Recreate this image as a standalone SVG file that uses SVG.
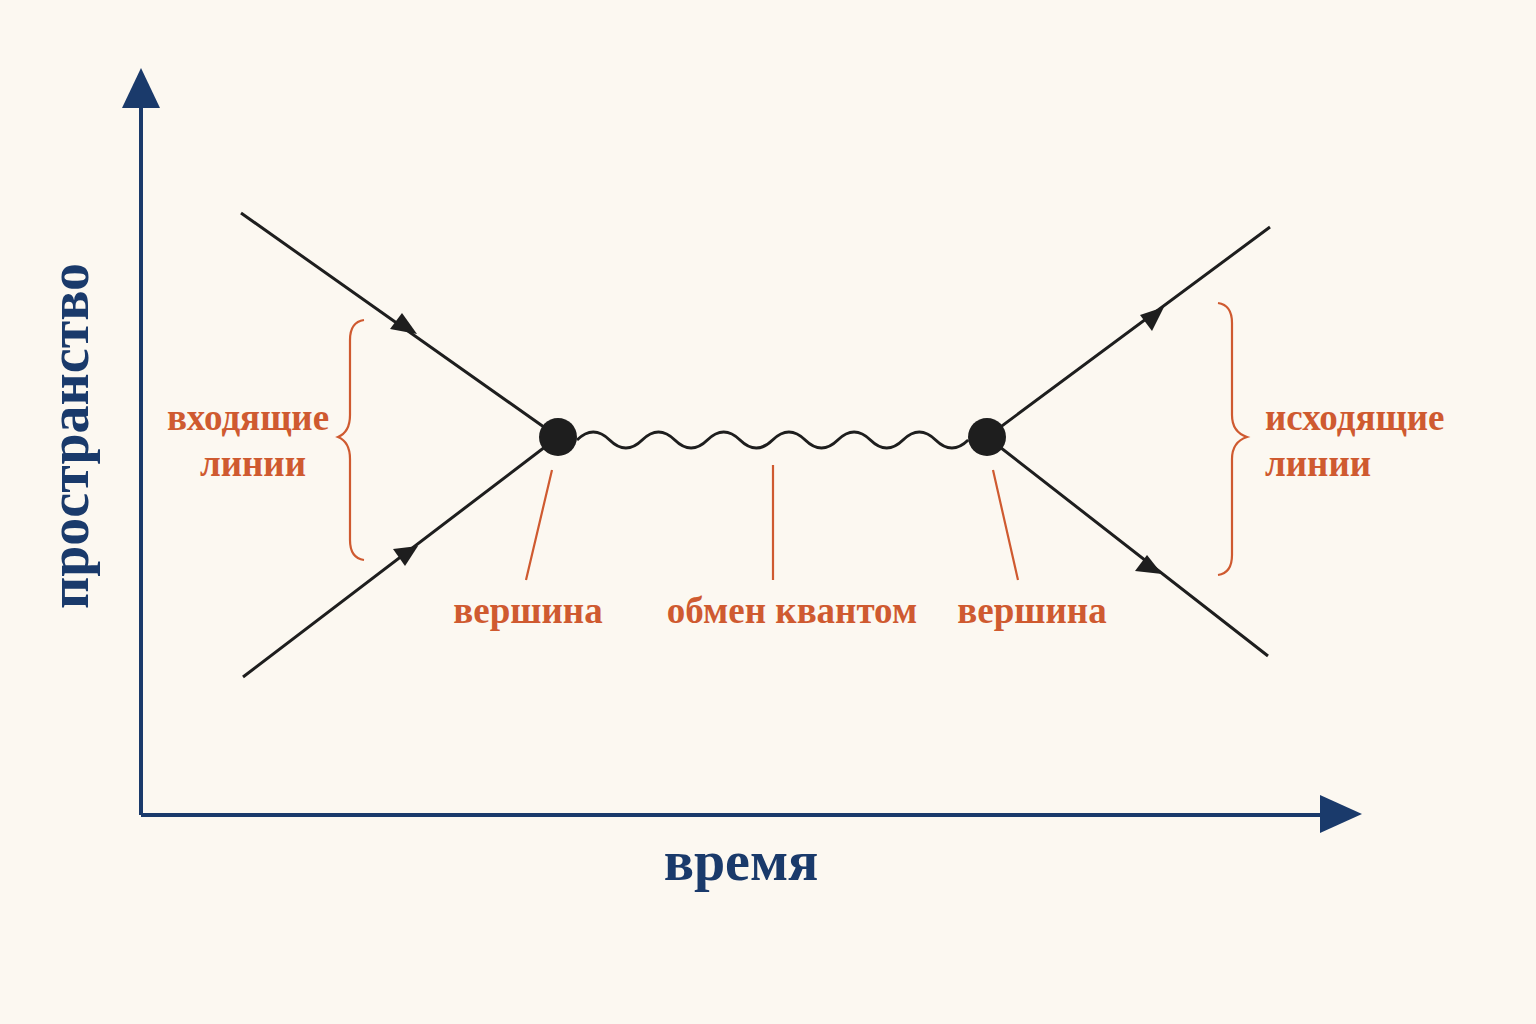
<svg xmlns="http://www.w3.org/2000/svg" width="1536" height="1024" viewBox="0 0 1536 1024">
<defs>
<style>
.ax{stroke:#1a3a6b;stroke-width:4;fill:none}
.ln{stroke:#1e1e1e;stroke-width:3;fill:none}
.or{stroke:#cf5a30;stroke-width:2.2;fill:none}
.tb{font-family:"Liberation Serif","DejaVu Serif",serif;fill:#1a3a6b;font-size:56px;font-weight:bold}
.to{font-family:"Liberation Serif","DejaVu Serif",serif;fill:#cf5a30;font-size:37px;font-weight:bold}
</style>
</defs>
<rect width="1536" height="1024" fill="#fcf8f1"/>
<g id="axes">
<path class="ax" d="M141,815 V100 M141,815 H1325"/>
<polygon points="141,68 122,108 160,108" fill="#1a3a6b"/>
<polygon points="1362,814 1320,795 1320,833" fill="#1a3a6b"/>
<text class="tb" transform="translate(88,436) rotate(-90)" text-anchor="middle">пространство</text>
<text class="tb" x="741" y="880" text-anchor="middle">время</text>
</g>
<g id="connectors">
<path class="ln" d="M241,213 L558,437 M243,677 L558,437 M987,437 L1270,227 M987,437 L1268,656"/>
<polygon points="417,334 390,329 402,313" fill="#1e1e1e"/>
<polygon points="418,546 393,549 405,566" fill="#1e1e1e"/>
<polygon points="1164,307 1152,331 1140,315" fill="#1e1e1e"/>
<polygon points="1162,574 1135,571 1147,555" fill="#1e1e1e"/>
<path class="ln" d="M577,440 q16.3,-16 32.6,0 t32.6,0 t32.6,0 t32.6,0 t32.6,0 t32.6,0 t32.6,0 t32.6,0 t32.6,0 t32.6,0 t32.6,0 t32.6,0"/>
<path class="or" d="M552,470 L526,580 M773,465 L773,580 M993,470 L1018,580"/>
<path class="or" d="M364,320 Q350,322 350,340 L350,415 Q350,432 338,437 Q350,442 350,459 L350,540 Q350,558 364,560"/>
<path class="or" d="M1218,303 Q1232,305 1232,323 L1232,415 Q1232,432 1247,437 Q1232,442 1232,459 L1232,555 Q1232,573 1218,575"/>
</g>
<g id="vertex1"><circle cx="558" cy="437" r="19" fill="#1e1e1e"/></g>
<g id="vertex2"><circle cx="987" cy="437" r="19" fill="#1e1e1e"/></g>
<g id="labels">
<text class="to" x="248" y="430" text-anchor="middle">входящие</text>
<text class="to" x="253" y="476" text-anchor="middle">линии</text>
<text class="to" x="1265" y="430">исходящие</text>
<text class="to" x="1265" y="476">линии</text>
<text class="to" x="528" y="623" text-anchor="middle">вершина</text>
<text class="to" x="792" y="623" text-anchor="middle">обмен квантом</text>
<text class="to" x="1032" y="623" text-anchor="middle">вершина</text>
</g>
</svg>
